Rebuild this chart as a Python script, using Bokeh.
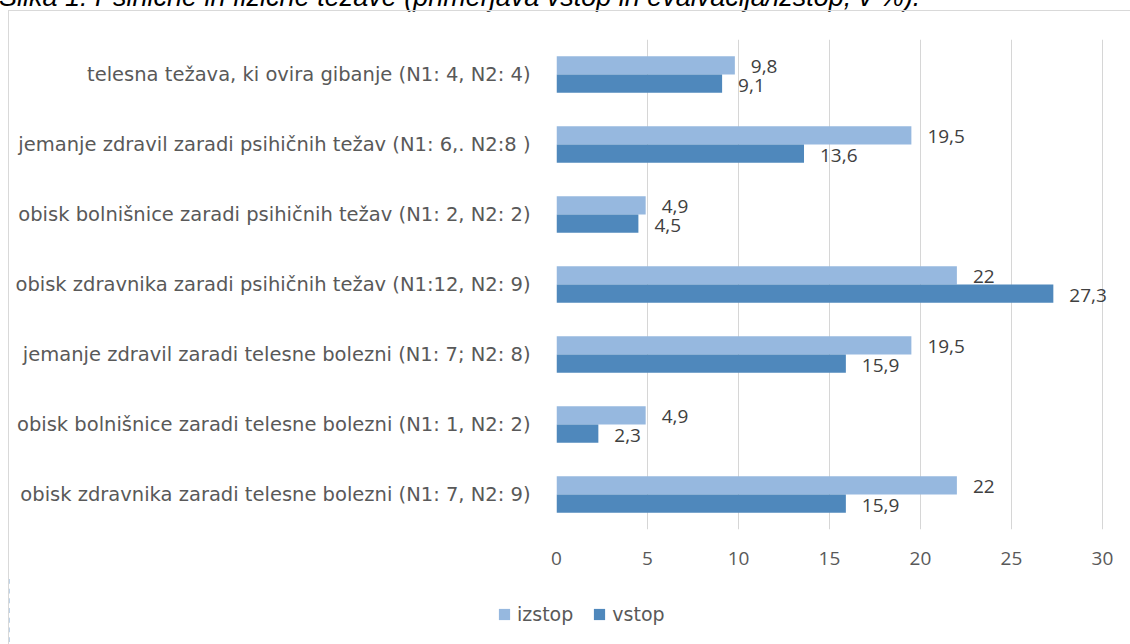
from bokeh.plotting import figure
from bokeh.layouts import column
from bokeh.models import (ColumnDataSource, FactorRange, LabelSet, Legend, LegendItem,
                          FixedTicker, Div)
from bokeh.transform import dodge
from bokeh.core.properties import value
from bokeh.embed import file_html
from bokeh.resources import INLINE

title_text = "Slika 1: Psihične in fizične težave (primerjava vstop in evalvacija/izstop, v %)."
categories = [
    "telesna težava, ki ovira gibanje (N1: 4, N2: 4)",
    "jemanje zdravil zaradi psihičnih težav (N1: 6,. N2:8 )",
    "obisk bolnišnice zaradi psihičnih težav (N1: 2, N2: 2)",
    "obisk zdravnika zaradi psihičnih težav (N1:12, N2: 9)",
    "jemanje zdravil zaradi telesne bolezni (N1: 7; N2: 8)",
    "obisk bolnišnice zaradi telesne bolezni (N1: 1, N2: 2)",
    "obisk zdravnika zaradi telesne bolezni (N1: 7, N2: 9)",
]
izstop = [9.8, 19.5, 4.9, 22, 19.5, 4.9, 22]
vstop = [9.1, 13.6, 4.5, 27.3, 15.9, 2.3, 15.9]
x_ticks = [0, 5, 10, 15, 20, 25, 30]
series_names = ["izstop", "vstop"]

LIGHT = "#96B8DF"
DARK = "#4F88BC"
NUM_FONT = "Open Sans"
TXT_FONT = "DejaVu Sans"
FS = "19px"
TXT = "#595959"


def fmt(v):
    return ("%g" % v).replace(".", ",")


src = ColumnDataSource(dict(
    cat=categories,
    izstop=izstop,
    vstop=vstop,
    izstop_lbl=[fmt(v) for v in izstop],
    vstop_lbl=[fmt(v) for v in vstop],
))

p = figure(
    width=1121, height=565,
    y_range=FactorRange(factors=list(reversed(categories))),
    x_range=(0, 31.43),
    output_backend="svg", toolbar_location=None,
    min_border_left=547, min_border_right=2, min_border_top=28, min_border_bottom=47,
)
p.outline_line_color = None

bw = 0.26
r1 = p.hbar(y=dodge("cat", bw / 2, range=p.y_range), right="izstop", height=bw, left=0,
            source=src, fill_color=LIGHT, line_color=None)
r2 = p.hbar(y=dodge("cat", -bw / 2, range=p.y_range), right="vstop", height=bw, left=0,
            source=src, fill_color=DARK, line_color=None)

for col, off, yoff in (("izstop", bw / 2, -1), ("vstop", -bw / 2, -2)):
    p.add_layout(LabelSet(x=col, y=dodge("cat", off, range=p.y_range), text=col + "_lbl",
                          source=src, x_offset=16, y_offset=yoff, text_align="left",
                          text_baseline="middle", text_font=value(NUM_FONT), text_font_size=FS,
                          text_color="#404040"))

p.xgrid.grid_line_color = "#d6d6d6"
p.xgrid.grid_line_width = 1
p.ygrid.grid_line_color = None

p.xaxis.ticker = FixedTicker(ticks=x_ticks)
p.xaxis.axis_line_color = None
p.xaxis.major_tick_line_color = None
p.xaxis.minor_tick_line_color = None
p.xaxis.major_label_text_font = NUM_FONT
p.xaxis.major_label_text_font_size = FS
p.xaxis.major_label_text_color = TXT
p.xaxis.major_label_standoff = 16

p.yaxis.axis_line_color = None
p.yaxis.major_tick_line_color = None
p.yaxis.minor_tick_line_color = None
p.yaxis.major_label_text_font = TXT_FONT
p.yaxis.major_label_text_font_size = "19.5px"
p.yaxis.major_label_text_color = TXT
p.yaxis.major_label_standoff = 20

# legend strip below the chart (its bars lie outside the strip's visible range)
leg = figure(width=1121, height=68, output_backend="svg", toolbar_location=None,
             x_range=(100, 101), y_range=FactorRange(factors=categories),
             min_border=0, x_axis_location=None, y_axis_location=None)
leg.frame_align = False
leg.outline_line_color = None
leg.xgrid.grid_line_color = None
leg.ygrid.grid_line_color = None
lr1 = leg.hbar(y="cat", right="izstop", left=0, height=0.5, source=src,
               fill_color=LIGHT, line_color=None)
lr2 = leg.hbar(y="cat", right="vstop", left=0, height=0.5, source=src,
               fill_color=DARK, line_color=None)
legend = Legend(items=[LegendItem(label=series_names[0], renderers=[lr1], index=0),
                       LegendItem(label=series_names[1], renderers=[lr2], index=0)],
                orientation="horizontal", location=(488, 19),
                label_text_font=TXT_FONT, label_text_font_size=FS, label_text_color=TXT,
                glyph_width=14, glyph_height=14, label_standoff=6, spacing=19,
                padding=0, margin=0, border_line_color=None, background_fill_alpha=0)
leg.add_layout(legend, "center")

chart = column(p, leg, spacing=0,
               styles={"border-top": "1px solid #d9d9d9", "border-left": "1px solid #d9d9d9",
                       "margin-left": "8px"})

title = Div(
    text=('<div style="position:relative; top:-18px; left:-1px; white-space:nowrap; '
          'font-family:\'Liberation Sans\'; font-style:italic; font-size:27px; '
          'line-height:31px; color:#000;">' + title_text + '</div>'),
    width=1130, height=10, styles={"overflow": "visible", "margin": "0", "padding": "0"},
)

layout = column(title, chart, spacing=0)

open("out.html", "w").write(file_html(layout, INLINE))
